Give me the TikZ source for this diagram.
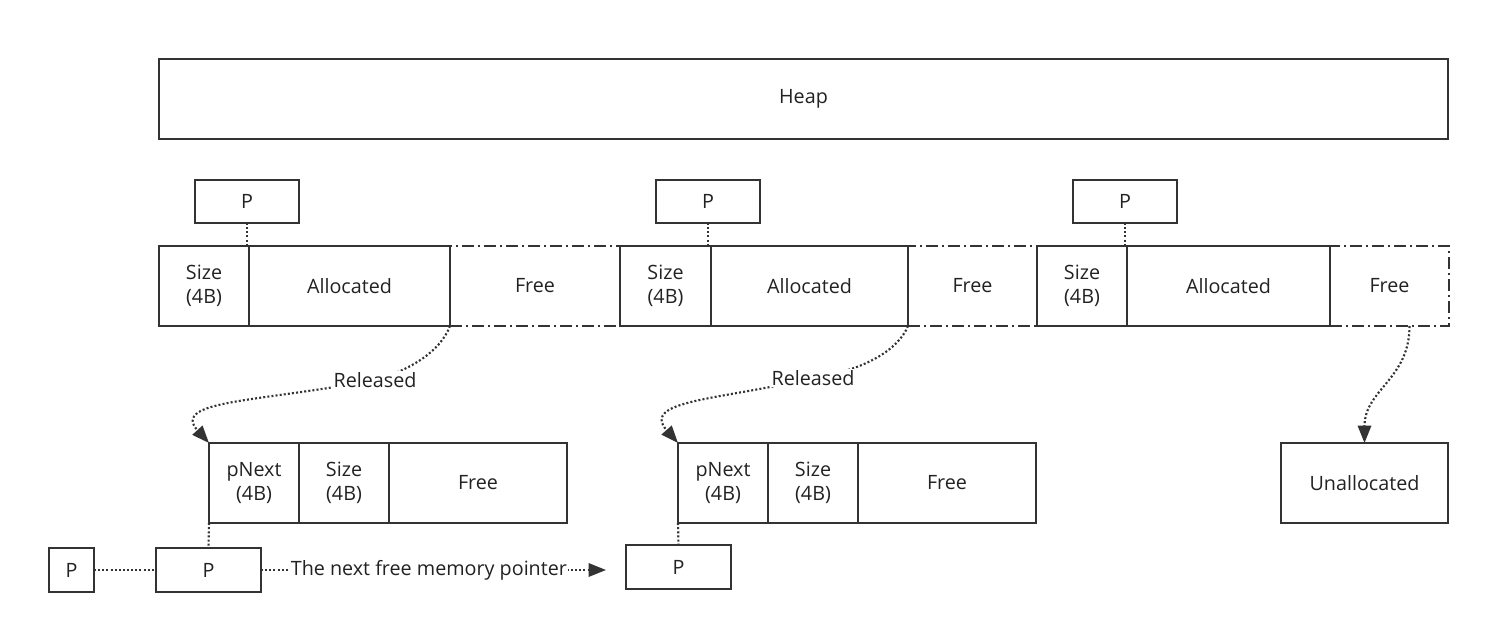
\documentclass[tikz,border=0pt]{standalone}
\usepackage{fontspec}
\setmainfont{Open Sans}
\usetikzlibrary{arrows.meta}
\definecolor{ln}{HTML}{333333}
\definecolor{tx}{HTML}{222222}
\tikzset{
  cell/.style={draw=ln, line width=1.5pt, inner sep=0pt, outer sep=0pt, align=center,
    text=tx, font=\fontsize{14.8}{18}\selectfont},
  freecell/.style={cell, dash pattern=on 9pt off 3pt on 1.5pt off 3pt},
  dotline/.style={draw=ln, line width=1.6pt, dash pattern=on 1.5pt off 1.6pt},
  dotarrow/.style={dotline, -{Triangle[length=13pt,width=10pt]}},
  lbl/.style={fill=white, inner sep=1pt, text=tx, font=\fontsize{14.8}{18}\selectfont}
}
\begin{document}
\begin{tikzpicture}[x=0.75pt,y=-0.75pt]
\useasboundingbox (0,0) rectangle (1510,643);
% Heap
\node[cell, minimum width=966.75pt, minimum height=60pt] (heap) at (803.5,99) {Heap};
% top pointers
\node[cell, minimum width=78pt, minimum height=32.25pt] (p1) at (247,201.5) {P};
\node[cell, minimum width=78pt, minimum height=32.25pt] (p2) at (708,201.5) {P};
\node[cell, minimum width=78pt, minimum height=32.25pt] (p3) at (1125,201.5) {P};
% row: free cells first
\node[freecell, minimum width=127.5pt, minimum height=60pt] (f1) at (535,286) {Free};
\node[freecell, minimum width=96.75pt, minimum height=60pt] (f2) at (972.5,286) {Free};
\node[freecell, minimum width=89.25pt, minimum height=60pt] (f3) at (1389.5,286) {Free};
\node[cell, minimum width=67.5pt, minimum height=60pt] (s1) at (204,286) {Size\\(4B)};
\node[cell, minimum width=150.75pt, minimum height=60pt] (a1) at (349.5,286) {Allocated};
\node[cell, minimum width=68.25pt, minimum height=60pt] (s2) at (665.5,286) {Size\\(4B)};
\node[cell, minimum width=147.75pt, minimum height=60pt] (a2) at (809.5,286) {Allocated};
\node[cell, minimum width=67.5pt, minimum height=60pt] (s3) at (1082,286) {Size\\(4B)};
\node[cell, minimum width=152.25pt, minimum height=60pt] (a3) at (1228.5,286) {Allocated};
% lower blocks
\node[cell, minimum width=67.5pt, minimum height=60pt] (n1) at (254,483) {pNext\\(4B)};
\node[cell, minimum width=67.5pt, minimum height=60pt] (z1) at (344,483) {Size\\(4B)};
\node[cell, minimum width=133.5pt, minimum height=60pt] (e1) at (478,483) {Free};
\node[cell, minimum width=67.5pt, minimum height=60pt] (n2) at (723,483) {pNext\\(4B)};
\node[cell, minimum width=67.5pt, minimum height=60pt] (z2) at (813,483) {Size\\(4B)};
\node[cell, minimum width=133.5pt, minimum height=60pt] (e2) at (947,483) {Free};
\node[cell, minimum width=125.25pt, minimum height=60pt] (un) at (1364.5,483) {Unallocated};
% bottom pointers
\node[cell, minimum width=33.75pt, minimum height=33pt] (sp) at (71.5,570) {P};
\node[cell, minimum width=78.75pt, minimum height=33pt] (pm) at (208.5,570) {P};
\node[cell, minimum width=78.75pt, minimum height=33pt] (pr) at (678.5,567) {P};
% connectors
\draw[dotline] (p1.south) -- (p1.south |- s1.north);
\draw[dotline] (p2.south) -- (p2.south |- s2.north);
\draw[dotline] (p3.south) -- (p3.south |- s3.north);
\draw[dotarrow] (f1.south west) .. controls (440,352) and (410,370) .. (375,380)
  node[lbl] {Released}
  .. controls (260,402) and (170,400) .. (n1.north west);
\draw[dotarrow] (f2.south west) .. controls (898,350) and (865,370) .. (813,378)
  node[lbl] {Released}
  .. controls (720,400) and (640,400) .. (n2.north west);
\draw[dotarrow] ([xshift=15pt]f3.south) .. controls ([xshift=15pt,yshift=-40pt]f3.south) and ([yshift=40pt]un.north) .. (un.north);
\draw[dotline] (n1.south west) -- (pm.north);
\draw[dotline] (n2.south west) -- (pr.north);
\draw[dotline] (sp.east) -- (pm.west);
\draw[dotarrow, shorten >=15pt] (pm.east) -- node[lbl, pos=0.46] {The next free memory pointer} (pm.east -| pr.west);
\end{tikzpicture}
\end{document}
